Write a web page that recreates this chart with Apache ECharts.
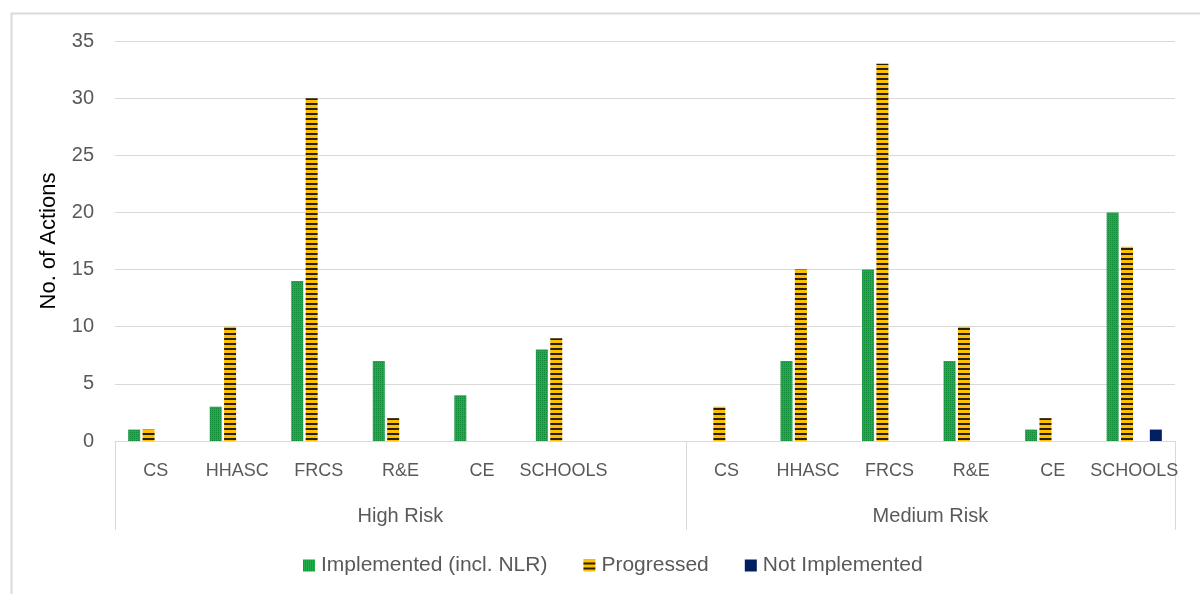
<!DOCTYPE html>
<html>
<head>
<meta charset="utf-8">
<script src="https://cdn.jsdelivr.net/npm/echarts@6/dist/echarts.min.js"></script>
<style>
html,body{margin:0;padding:0;background:#fff;}
#chart{width:1200px;height:594px;}
</style>
</head>
<body>
<div id="chart"></div>
<script>
// ---- data ----
const categories = ['CS','HHASC','FRCS','R&E','CE','SCHOOLS','', 'CS','HHASC','FRCS','R&E','CE','SCHOOLS'];
const groups = ['High Risk','Medium Risk'];
const groupSizes = [7, 6];
const implemented = [1, 3, 14, 7, 4, 8, null, 0, 7, 15, 7, 1, 20];
const progressed   = [1, 10, 30, 2, 0, 9, null, 3, 15, 33, 10, 2, 17];
const notImplemented = [0, 0, 0, 0, 0, 0, null, 0, 0, 0, 0, 0, 1];
const yTicks = [0, 5, 10, 15, 20, 25, 30, 35];

const FONT = "'Liberation Sans',sans-serif";

function makePattern(w, h, draw) {
  const c = document.createElement('canvas');
  c.width = w; c.height = h;
  draw(c.getContext('2d'));
  return { image: c, repeat: 'repeat' };
}
const greenPattern = makePattern(4, 4, ctx => {
  ctx.fillStyle = '#20ac4a'; ctx.fillRect(0, 0, 4, 4);
  ctx.fillStyle = '#0f8a36';
  ctx.fillRect(0, 0, 1, 1); ctx.fillRect(2, 2, 1, 1);
  ctx.fillRect(2, 0, 1, 1); ctx.fillRect(0, 2, 1, 1);
});
const orangePattern = makePattern(4, 5, ctx => {
  ctx.fillStyle = '#ffc000'; ctx.fillRect(0, 0, 4, 5);
  ctx.fillStyle = '#2a2000'; ctx.fillRect(0, 3, 4, 2);
});

// group boundaries and centers
const bounds = [0];
groupSizes.forEach(s => bounds.push(bounds[bounds.length - 1] + s));
const centers = groupSizes.map((s, i) => bounds[i] + s / 2);

const chart = echarts.init(document.getElementById('chart'));
chart.setOption({
  animation: false,
  textStyle: { fontFamily: FONT },
  graphic: [{
    type: 'rect', silent: true, z: -10,
    shape: { x: 11.5, y: 13.5, width: 1220, height: 620 },
    style: { fill: 'none', stroke: '#d9d9d9', lineWidth: 2 }
  }],
  grid: { left: 115, right: 25, top: 41, bottom: 153, containLabel: false },
  legend: {
    data: ['Implemented (incl. NLR)', 'Progressed', 'Not Implemented'],
    left: 298, top: 550,
    itemWidth: 12, itemHeight: 12, itemGap: 36,
    icon: 'rect',
    textStyle: { fontFamily: FONT, fontSize: 21, color: '#595959', padding: [0, 0, 0, 1] }
  },
  xAxis: [{
    type: 'category',
    data: categories,
    axisLine: { show: true, lineStyle: { color: '#d9d9d9', width: 1 } },
    axisTick: { show: false },
    axisLabel: { interval: 0, margin: 21, fontSize: 18, color: '#595959', fontFamily: FONT }
  }, {
    type: 'value',
    min: 0, max: bounds[bounds.length - 1],
    position: 'bottom',
    axisLine: { show: false },
    splitLine: { show: false },
    axisTick: { show: true, inside: false, length: 89, customValues: bounds, lineStyle: { color: '#d9d9d9', width: 1 } },
    axisLabel: {
      show: true, margin: 65, fontSize: 20, color: '#595959', fontFamily: FONT,
      customValues: centers,
      formatter: v => { const i = centers.findIndex(c => Math.abs(c - v) < 1e-6); return i >= 0 ? groups[i] : ''; }
    }
  }],
  yAxis: {
    type: 'value', min: 0, max: 35, interval: 5,
    name: 'No. of Actions', nameLocation: 'middle', nameGap: 55, nameRotate: 90,
    nameTextStyle: { fontSize: 22, color: '#000', fontFamily: FONT },
    axisLine: { show: false }, axisTick: { show: false },
    axisLabel: { margin: 21, fontSize: 20, color: '#595959', fontFamily: FONT,
      formatter: v => yTicks.includes(v) ? String(v) : '' },
    splitLine: { lineStyle: { color: '#d9d9d9', width: 1 } }
  },
  series: [
    { name: 'Implemented (incl. NLR)', type: 'bar', data: implemented, barWidth: 12, barGap: '20%',
      itemStyle: { color: greenPattern }, emphasis: { disabled: true } },
    { name: 'Progressed', type: 'bar', data: progressed, barWidth: 12, barGap: '20%',
      itemStyle: { color: orangePattern }, emphasis: { disabled: true } },
    { name: 'NLR', type: 'bar', data: categories.map(() => null), barWidth: 12, barGap: '20%',
      itemStyle: { color: '#7f7f7f' } },
    { name: 'Not Implemented', type: 'bar', data: notImplemented, barWidth: 12, barGap: '20%',
      itemStyle: { color: '#002060' }, emphasis: { disabled: true } }
  ]
});
</script>
</body>
</html>
